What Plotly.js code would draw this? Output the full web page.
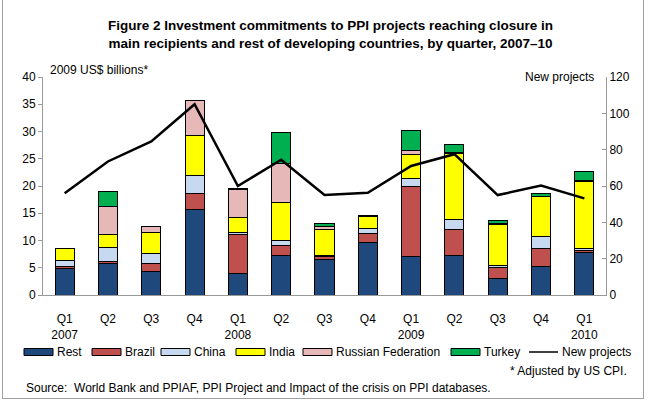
<!DOCTYPE html>
<html>
<head>
<meta charset="utf-8">
<script src="https://cdn.plot.ly/plotly-3.0.1.min.js"></script>
<style>
  html, body { margin: 0; padding: 0; background: #fff; }
  #chart { width: 648px; height: 400px; position: relative; }
  #frame { position: absolute; left: 2px; top: 0; width: 640px; height: 398px;
           border: 1px solid #a0a0a0; border-top: none; pointer-events: none; }
</style>
</head>
<body>
<div id="chart"></div>
<div id="frame"></div>
<script>
// quarters 2007 Q1 .. 2010 Q1
const quarters = ["Q1<br>2007", "Q2", "Q3", "Q4", "Q1<br>2008", "Q2", "Q3", "Q4",
                  "Q1<br>2009", "Q2", "Q3", "Q4", "Q1<br>2010"];

// investment commitments, 2009 US$ billions
const rest   = [4.9, 5.85, 4.4, 15.6, 3.9, 7.3, 6.5, 9.6, 7.0, 7.3, 3.1, 5.2, 7.75];
const brazil = [0.4, 0.35, 1.3, 3.0, 7.2, 1.8, 0.5, 1.7, 12.9, 4.7, 1.9, 3.35, 0.35];
const china  = [1.0, 2.5, 1.9, 3.4, 0.3, 0.9, 0.3, 0.9, 1.5, 1.9, 0.5, 2.25, 0.4];
const india  = [2.25, 2.4, 3.9, 7.2, 2.9, 6.9, 4.7, 2.2, 4.4, 12.1, 7.5, 7.2, 12.3];
const russia = [0, 5.2, 1.1, 6.4, 5.1, 7.2, 0.6, 0.1, 0.7, 0.15, 0.1, 0.15, 0.15];
const turkey = [0, 2.7, 0, 0, 0.2, 5.8, 0.5, 0.1, 3.7, 1.45, 0.6, 0.45, 1.65];

// number of new projects (right axis)
const newProjects = [56, 73.5, 84.5, 105, 60, 74.5, 55, 56.3, 71, 77.5, 55, 60.2, 53.2];

const seriesNames  = ["Rest", "Brazil", "China", "India", "Russian Federation", "Turkey"];
const seriesColors = ["#1F497D", "#C0504D", "#C6D9F1", "#FFFF00", "#E6B9B8", "#00B050"];
const seriesValues = [rest, brazil, china, india, russia, turkey];

const xs = quarters.map((q, i) => i);
const font = "Arial, 'Liberation Sans', sans-serif";

// plot area in pixels, used to place the hand-made legend below it
const M = {l: 43, r: 42, t: 77, b: 105};
const plotW = 648 - M.l - M.r, plotH = 400 - M.t - M.b;
const px = x => (x - M.l) / plotW;
const py = y => (400 - M.b - y) / plotH;

const traces = seriesNames.map((name, i) => ({
  type: "bar", name: name, x: xs, y: seriesValues[i],
  marker: {color: seriesColors[i], line: {color: "#000", width: 1}},
  hoverinfo: "skip"
}));
traces.push({
  type: "scatter", mode: "lines", name: "New projects", x: xs, y: newProjects,
  yaxis: "y2", line: {color: "#000", width: 2.5}, hoverinfo: "skip"
});

// legend row: wide swatches like the original
const legendStarts = [24, 92, 161, 236, 303, 451, 529];
const legY = 352;
const shapes = [];
const legendText = [];
seriesNames.forEach((name, i) => {
  const x0 = legendStarts[i];
  shapes.push({type: "rect", xref: "paper", yref: "paper",
    x0: px(x0), x1: px(x0 + 29), y0: py(legY - 3.5), y1: py(legY + 3.5),
    fillcolor: seriesColors[i], line: {color: "#000", width: 1}});
  legendText.push({text: name, xref: "paper", yref: "paper", x: px(x0 + 31), y: py(legY),
    xanchor: "left", yanchor: "middle", showarrow: false, font: {size: 12}});
});
shapes.push({type: "line", xref: "paper", yref: "paper",
  x0: px(legendStarts[6]), x1: px(legendStarts[6] + 29), y0: py(legY), y1: py(legY),
  line: {color: "#000", width: 1.5}});
legendText.push({text: "New projects", xref: "paper", yref: "paper",
  x: px(legendStarts[6] + 31), y: py(legY),
  xanchor: "left", yanchor: "middle", showarrow: false, font: {size: 12}});

const layout = {
  width: 648, height: 400,
  margin: M,
  paper_bgcolor: "#fff", plot_bgcolor: "#fff",
  font: {family: font, size: 12, color: "#000"},
  barmode: "stack",
  bargap: 0.56,
  showlegend: false,
  title: {
    text: "<b>Figure 2 Investment commitments to PPI projects reaching closure in<br>main recipients and rest of developing countries, by quarter, 2007–10</b>",
    font: {family: font, size: 13.5, color: "#000"},
    x: 0.51, xanchor: "center", y: 0.925, yanchor: "middle", yref: "container"
  },
  xaxis: {
    tickvals: xs, ticktext: quarters, range: [-0.5, 12.5],
    showline: true, linecolor: "#999", linewidth: 1,
    ticks: "", ticklabelstandoff: 13, showgrid: false, zeroline: false,
    tickfont: {size: 12}
  },
  yaxis: {
    range: [0, 40], dtick: 5, showline: true, linecolor: "#999", linewidth: 1,
    ticks: "outside", ticklen: 4, tickcolor: "#999",
    showgrid: false, zeroline: false, tickfont: {size: 12}
  },
  yaxis2: {
    overlaying: "y", side: "right", range: [0, 120], dtick: 20,
    showline: true, linecolor: "#999", linewidth: 1,
    ticks: "inside", ticklen: 4, tickcolor: "#999",
    showgrid: false, zeroline: false, tickfont: {size: 12}
  },
  shapes: shapes,
  annotations: [
    {text: "2009 US$ billions*", xref: "paper", yref: "paper", x: 0.008, y: 1.03,
     xanchor: "left", yanchor: "middle", showarrow: false, font: {size: 12}},
    {text: "New projects", xref: "paper", yref: "paper", x: 0.982, y: 1.0,
     xanchor: "right", yanchor: "middle", showarrow: false, font: {size: 12}},
    {text: "* Adjusted by US CPI.", xref: "paper", yref: "paper", x: px(629), y: py(371),
     xanchor: "right", yanchor: "middle", showarrow: false, font: {size: 12}},
    {text: "Source:  World Bank and PPIAF, PPI Project and Impact of the crisis on PPI databases.",
     xref: "paper", yref: "paper", x: px(24), y: py(388),
     xanchor: "left", yanchor: "middle", showarrow: false, font: {size: 12}}
  ].concat(legendText)
};

Plotly.newPlot("chart", traces, layout, {staticPlot: true});
</script>
</body>
</html>
